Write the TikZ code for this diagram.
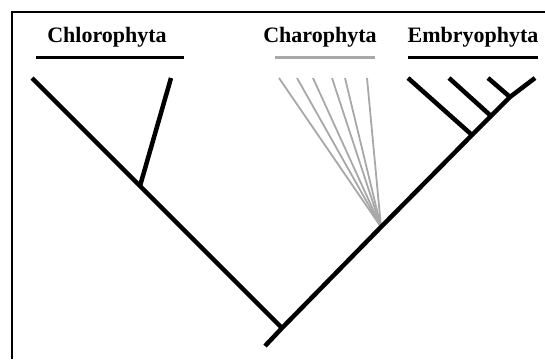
\documentclass[tikz,border=0pt]{standalone}
\usepackage{fontspec}
\setmainfont{Liberation Serif}
\usepackage{tikz}
\definecolor{charogrey}{HTML}{A8A8A8}

\begin{document}
\begin{tikzpicture}[
  x=1pt,y=-1pt,
  clade/.style={font=\fontsize{22}{26}\selectfont\bfseries,anchor=base,inner sep=0pt},
  bar/.style={line width=3pt,draw=black},
  greybar/.style={line width=3pt,draw=charogrey},
  branch/.style={line width=4.5pt,draw=black},
  twig/.style={line width=1.8pt,draw=charogrey}
]
\useasboundingbox (0,0) rectangle (545,359);
\draw[line width=2pt] (12,359) -- (12,12) -- (545,12);

% clade names and bars
\node[clade] (chloro) at (107,42) {Chlorophyta};
\node[clade] (charo) at (320,42) {Charophyta};
\node[clade] (embryo) at (473,42) {Embryophyta};
\coordinate (chloroL) at (36,57);  \coordinate (chloroR) at (184,57);
\coordinate (charoL) at (275,57);  \coordinate (charoR) at (375,57);
\coordinate (embryoL) at (408,57); \coordinate (embryoR) at (538,57);
\draw[bar] (chloroL) -- (chloroR);
\draw[greybar] (charoL) -- (charoR);
\draw[bar] (embryoL) -- (embryoR);

% tree
\coordinate (stem) at (265,346);
\coordinate (root) at (282,328);
\coordinate (ltip) at (32,78);
\coordinate (chlorojn) at (140,186);
\coordinate (chlorotip) at (171,78);
\coordinate (charojn) at (381,227);
\coordinate (ejn1) at (472,135);
\coordinate (ejn2) at (491,116);
\coordinate (ejn3) at (510,97);
\coordinate (rtip) at (535,78);
\coordinate (etip1) at (408,78);
\coordinate (etip2) at (449,78);
\coordinate (etip3) at (488,78);

\foreach \x [count=\i] in {279,297,313,332,345,367}
  \draw[twig] (charojn) -- (\x,78);
\draw[branch] (ltip) -- (root);
\draw[branch] (chlorojn) -- (chlorotip);
\draw[branch] (stem) -- (root) -- (charojn) -- (ejn1) -- (ejn2) -- (ejn3) -- (rtip);
\draw[branch] (ejn1) -- (etip1);
\draw[branch] (ejn2) -- (etip2);
\draw[branch] (ejn3) -- (etip3);
\end{tikzpicture}
\end{document}
